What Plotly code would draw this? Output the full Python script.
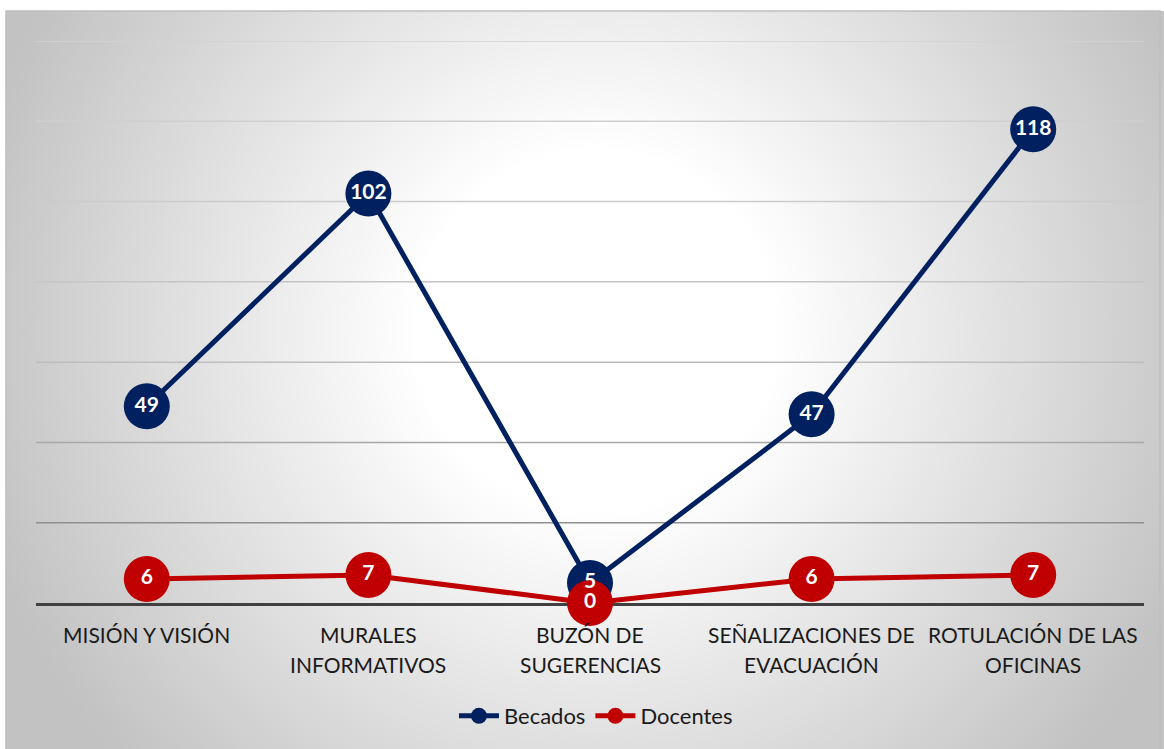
import base64
import plotly.graph_objects as go

# Categories (two-line labels) and series values
categories = ["MISIÓN Y VISIÓN", "MURALES INFORMATIVOS", "BUZÓN DE SUGERENCIAS",
              "SEÑALIZACIONES DE EVACUACIÓN", "ROTULACIÓN DE LAS OFICINAS"]
label_lines = [["MISIÓN Y VISIÓN"],
               ["MURALES", "INFORMATIVOS"],
               ["BUZÓN DE", "SUGERENCIAS"],
               ["SEÑALIZACIONES DE", "EVACUACIÓN"],
               ["ROTULACIÓN DE LAS", "OFICINAS"]]
becados = [49, 102, 5, 47, 118]
docentes = [6, 7, 0, 6, 7]
grid_levels = [20, 40, 60, 80, 100, 120, 140]
grid_colors = ["#8f8f8f", "#a8a8a8", "#bdbdbd", "#c6c6c6", "#cccccc", "#cfcfcf", "#d2d2d2"]

BLUE = "#002060"
RED = "#C00000"
FONT = "Lato"

W, H = 1164, 749

# Radial grey-to-white background for the chart area
svg = f"""<svg xmlns='http://www.w3.org/2000/svg' width='1158' height='738'>
<defs><radialGradient id='g' gradientUnits='userSpaceOnUse' cx='590' cy='320' r='640'>
<stop offset='0' stop-color='#ffffff'/><stop offset='0.28' stop-color='#ffffff'/>
<stop offset='1' stop-color='#c2c2c2'/></radialGradient></defs>
<rect width='1158' height='738' fill='url(#g)'/></svg>"""
bg_uri = "data:image/svg+xml;base64," + base64.b64encode(svg.encode()).decode()

x = list(range(len(categories)))

fig = go.Figure()
fig.add_trace(go.Scatter(x=x, y=becados, name="Becados", mode="lines+markers",
                         line=dict(color=BLUE, width=5),
                         marker=dict(size=46, color=BLUE), cliponaxis=False))
fig.add_trace(go.Scatter(x=x, y=docentes, name="Docentes", mode="lines+markers",
                         line=dict(color=RED, width=5),
                         marker=dict(size=46, color=RED), cliponaxis=False))
# Value labels drawn on top of all markers
for vals in (becados, docentes):
    fig.add_trace(go.Scatter(x=x, y=vals, mode="text", text=[str(v) for v in vals],
                             textfont=dict(family=FONT, size=21, color="white", weight="bold"),
                             showlegend=False, hoverinfo="skip", cliponaxis=False))

shapes = [
    # chart area border
    dict(type="rect", xref="paper", yref="paper", x0=6 / W, x1=1160 / W, y0=-0.01, y1=(H - 11) / H,
         line=dict(color="#bfbfbf", width=1.5), fillcolor="rgba(0,0,0,0)", layer="below"),
]
for lvl, col in zip(grid_levels, grid_colors):
    shapes.append(dict(type="line", xref="x domain", yref="y", x0=0, x1=1, y0=lvl, y1=lvl,
                       line=dict(color=col, width=1.5), layer="below"))

annotations = []
for i, lines in enumerate(label_lines):
    for j, txt in enumerate(lines):
        annotations.append(dict(x=i, y=0, xref="x", yref="y", text=txt, showarrow=False,
                                yshift=-31 - 30 * j,
                                font=dict(family=FONT, size=21, color="#1a1a1a")))

fig.update_layout(
    width=W, height=H,
    margin=dict(l=0, r=0, t=0, b=0),
    paper_bgcolor="white", plot_bgcolor="rgba(0,0,0,0)",
    images=[dict(source=bg_uri, xref="paper", yref="paper", x=6 / W, y=(H - 11) / H,
                 sizex=1158 / W, sizey=738 / H, xanchor="left", yanchor="top",
                 sizing="stretch", layer="below")],
    shapes=shapes,
    annotations=annotations,
    xaxis=dict(domain=[36 / W, 1144 / W], range=[-0.5, 4.5], showgrid=False, zeroline=False,
               showticklabels=False, showline=True, linecolor="#404040", linewidth=3,
               layer="below traces", fixedrange=True),
    yaxis=dict(domain=[(H - 603) / H, (H - 41) / H], range=[0, 140], showgrid=False,
               zeroline=False, showticklabels=False, fixedrange=True),
    showlegend=True,
    legend=dict(orientation="h", x=0.512, xanchor="center", y=(H - 716) / H, yanchor="middle",
                font=dict(family=FONT, size=22, color="#1a1a1a"), bgcolor="rgba(0,0,0,0)",
                itemwidth=40),
)

fig.write_html("out.html")
